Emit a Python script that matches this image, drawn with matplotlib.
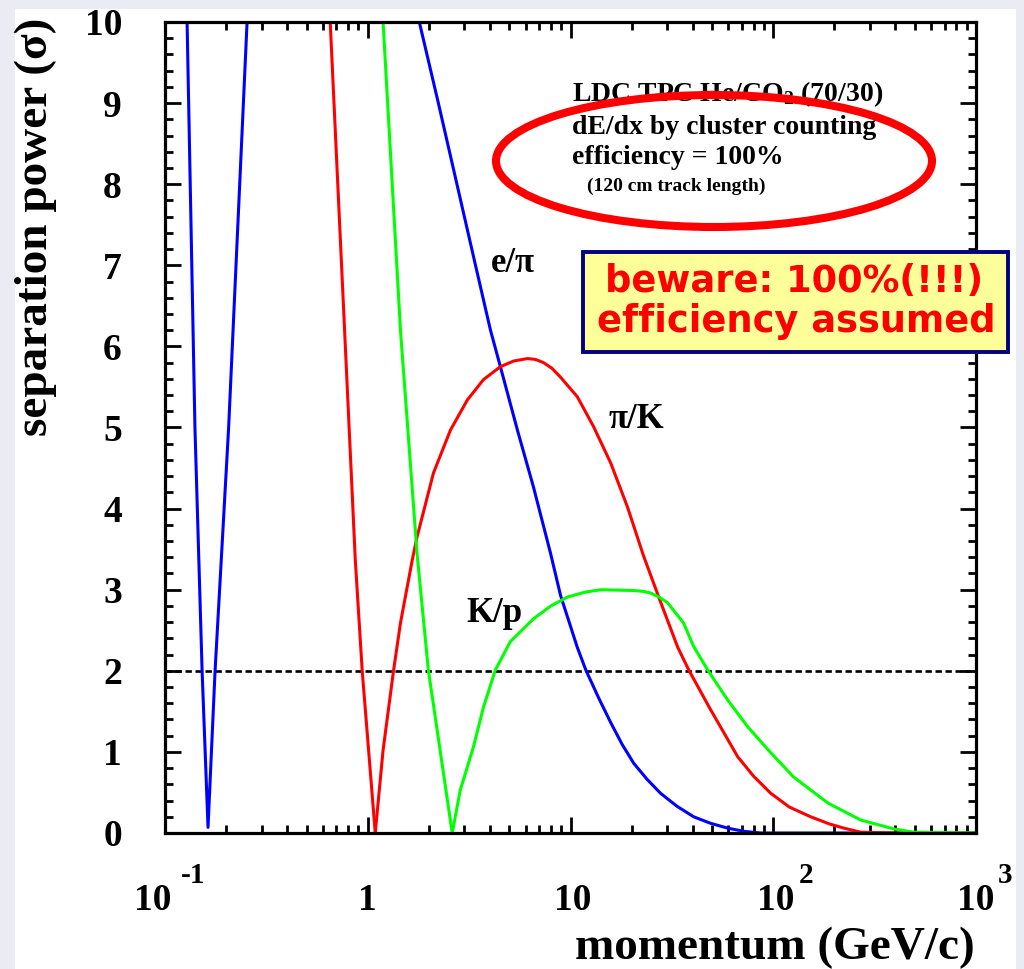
import matplotlib
matplotlib.use("Agg")
import matplotlib.pyplot as plt
from matplotlib.patches import Ellipse, Rectangle
from matplotlib.ticker import LogLocator, NullFormatter, MultipleLocator, FixedLocator

# ---------------- data ----------------
# e/pi  (blue)
p_epi_low = [0.1285, 0.1405, 0.1524, 0.163, 0.1766, 0.206, 0.254]
s_epi_low = [10.0, 5.0, 2.0, 0.07, 2.0, 5.0, 10.0]
p_epi_high = [1.796, 2.23, 3.40, 4.03, 4.51, 5.47, 6.56, 7.97, 8.93, 10.8, 11.9,
              13.8, 15.8, 18.0, 20.5, 23.9, 27.8, 33.5, 40.5, 49.0, 59.6, 72.0,
              86.7, 150.0, 1000.0]
s_epi_high = [10.0, 9.0, 7.0, 6.20, 5.75, 4.97, 4.27, 3.45, 2.93, 2.29, 2.01,
              1.66, 1.36, 1.09, 0.86, 0.66, 0.49, 0.33, 0.20, 0.12, 0.06, 0.02,
              0.0, 0.0, 0.0]

# pi/K  (red)
p_pik_low = [0.653, 0.868, 0.939, 1.089]
s_pik_low = [10.0, 3.37, 2.0, 0.0]
p_pik_high = [1.089, 1.19, 1.34, 1.45, 1.659, 1.75, 2.11, 2.56, 3.10, 3.72, 4.51,
              5.25, 6.13, 6.70, 7.36, 8.10, 8.93, 10.8, 13.0, 15.8, 19.1, 22.9,
              27.8, 33.8, 38.3, 49.1, 66.8, 80.0, 97.2, 120.0, 153.0, 190.0,
              223.0, 270.0, 400.0, 1000.0]
s_pik_high = [0.0, 1.02, 2.0, 2.59, 3.37, 3.65, 4.44, 4.97, 5.34, 5.59, 5.75,
              5.82, 5.85, 5.84, 5.80, 5.73, 5.62, 5.38, 5.01, 4.56, 4.02, 3.42,
              2.85, 2.29, 2.01, 1.52, 0.94, 0.70, 0.49, 0.32, 0.20, 0.11,
              0.06, 0.01, 0.0, 0.0]

# K/p  (green)
p_kp_low = [1.19, 1.45, 1.75, 1.99, 2.61]
s_kp_low = [10.0, 6.2, 3.45, 2.01, 0.0]
p_kp_high = [2.61, 2.86, 3.32, 3.72, 4.26, 5.05, 6.56, 8.0, 9.67, 11.8, 14.1,
             20.5, 22.8, 24.8, 27.3, 30.1, 36.1, 40.5, 47.5, 59.6, 74.8, 97.2,
             126.0, 186.0, 270.0, 394.0, 494.0, 1000.0]
s_kp_high = [0.0, 0.53, 1.06, 1.55, 2.01, 2.36, 2.64, 2.80, 2.91, 2.97, 3.0,
             2.99, 2.98, 2.96, 2.91, 2.84, 2.59, 2.30, 2.01, 1.64, 1.31, 0.99,
             0.69, 0.37, 0.16, 0.05, 0.01, 0.0]

threshold = 2.0
x_range = [0.1, 1000.0]
y_range = [0.0, 10.0]
y_ticks = list(range(0, 11))
y_tick_labels = [str(v) for v in y_ticks]
x_ticks = [0.1, 1.0, 10.0, 100.0, 1000.0]
x_tick_base = ['10', '1', '10', '10', '10']
x_tick_exp = ['-1', '', '', '2', '3']

# ---------------- style ----------------
plt.rcParams['font.family'] = ['Liberation Serif', 'DejaVu Serif']
plt.rcParams['font.weight'] = 'bold'
plt.rcParams['mathtext.fontset'] = 'custom'
plt.rcParams['mathtext.rm'] = 'Liberation Serif:bold'
plt.rcParams['mathtext.it'] = 'Liberation Serif:bold'
plt.rcParams['mathtext.bf'] = 'Liberation Serif:bold'
plt.rcParams['lines.scale_dashes'] = False

W, H = 1024, 969
PT = 0.72  # points per pixel at dpi 100
fig = plt.figure(figsize=(W / 100, H / 100), dpi=100, facecolor='#ebebf4')


def fx(x):
    return x / W


def fy(y):
    return 1 - y / H


# white slide panel
fig.patches.append(Rectangle((fx(15), 0), fx(1016) - fx(15), fy(9), transform=fig.transFigure,
                             facecolor='white', edgecolor='none', zorder=-10))

ax = fig.add_axes([fx(165), fy(833), fx(976) - fx(165), fy(22) - fy(833)])
ax.set_zorder(1)
ax.set_facecolor('white')
ax.set_xscale('log')
ax.set_xlim(*x_range)
ax.set_ylim(*y_range)

lw = 2.2
ax.plot(p_epi_low, s_epi_low, color='#0000ff', lw=lw, zorder=3)
ax.plot(p_epi_high, s_epi_high, color='#0000ff', lw=lw, zorder=3)
ax.plot(p_pik_low, s_pik_low, color='#ff0000', lw=lw, zorder=3)
ax.plot(p_pik_high, s_pik_high, color='#ff0000', lw=lw, zorder=3)
ax.plot(p_kp_low, s_kp_low, color='#00ff00', lw=lw, zorder=3)
ax.plot(p_kp_high, s_kp_high, color='#00ff00', lw=lw, zorder=3)
ax.axhline(threshold, color='black', lw=1.9, dashes=(4.6, 2.6), zorder=2)

for sp in ax.spines.values():
    sp.set_linewidth(2.3)
    sp.set_zorder(5)

ax.xaxis.set_major_locator(FixedLocator(x_ticks))
ax.xaxis.set_minor_locator(LogLocator(base=10, subs=range(2, 10), numticks=20))
ax.xaxis.set_minor_formatter(NullFormatter())
ax.set_xticklabels([''] * len(x_ticks))
ax.set_yticks(y_ticks)
ax.set_yticklabels(y_tick_labels)
ax.yaxis.set_minor_locator(MultipleLocator(0.2))

ax.tick_params(which='both', direction='in', top=True, right=True, width=2.0)
ax.tick_params(which='major', length=11.5)
ax.tick_params(which='minor', length=5.8)
ax.tick_params(axis='y', which='major', labelsize=27, pad=31)
for lab in ax.get_yticklabels():
    lab.set_fontweight('bold')

# x tick labels in ROOT style (base + raised exponent)
base_dx = [-12, 0, 2, 2, 0]
exp_dx = [16, 0, 0, 26, 22]
for xt, b, e, bdx, edx in zip(x_ticks, x_tick_base, x_tick_exp, base_dx, exp_dx):
    ax.annotate(b, xy=(xt, 0), xycoords=('data', 'axes fraction'),
                xytext=(bdx * PT, -(910 - 833) * PT), textcoords='offset points',
                ha='center', va='baseline', fontsize=27, fontweight='bold',
                annotation_clip=False)
    if e:
        ax.annotate(e, xy=(xt, 0), xycoords=('data', 'axes fraction'),
                    xytext=(edx * PT, -(883 - 833) * PT), textcoords='offset points',
                    ha='left', va='baseline', fontsize=21, fontweight='bold',
                    annotation_clip=False)

# axis titles
fig.text(fx(975), fy(959), 'momentum (GeV/c)', ha='right', va='baseline',
         fontsize=34, fontweight='bold')
fig.text(fx(36), fy(18), 'separation power (σ)', ha='center', va='top',
         rotation=90, fontsize=34, fontweight='bold')

# curve labels
fig.text(fx(513), fy(263), 'e/π', ha='center', va='center', fontsize=25, fontweight='bold', zorder=6)
fig.text(fx(636), fy(420), 'π/K', ha='center', va='center', fontsize=25, fontweight='bold', zorder=6)
fig.text(fx(494), fy(613), 'K/p', ha='center', va='center', fontsize=25, fontweight='bold', zorder=6)

# info text
fig.text(fx(572), fy(94), r'LDC TPC He/CO$_2$ (70/30)', ha='left', va='center',
         fontsize=20, fontweight='bold', zorder=6)
fig.text(fx(572), fy(127), 'dE/dx by cluster counting', ha='left', va='center',
         fontsize=20, fontweight='bold', zorder=6)
fig.text(fx(572), fy(157), 'efficiency = 100%', ha='left', va='center',
         fontsize=20, fontweight='bold', zorder=6)
fig.text(fx(587), fy(186), '(120 cm track length)', ha='left', va='center',
         fontsize=14, fontweight='bold', zorder=6)

# red ellipse
fig.patches.append(Ellipse((fx(714), fy(161)), width=fx(436), height=132 / H,
                           transform=fig.transFigure, facecolor='none',
                           edgecolor='#ff0000', lw=5.8, zorder=10))

# yellow warning box
fig.patches.append(Rectangle((fx(583), fy(352)), fx(1008) - fx(583), fy(252) - fy(352),
                             transform=fig.transFigure, facecolor='#ffff99',
                             edgecolor='#000080', lw=2.8, zorder=10))
fig.text(fx(794), fy(282), 'beware: 100%(!!!)', ha='center', va='center',
         fontsize=26.5, fontweight='bold', color='#ff0000', family='DejaVu Sans', zorder=11)
fig.text(fx(796), fy(321), 'efficiency assumed', ha='center', va='center',
         fontsize=26.5, fontweight='bold', color='#ff0000', family='DejaVu Sans', zorder=11)

fig.savefig('out.png', dpi=100, facecolor=fig.get_facecolor())
